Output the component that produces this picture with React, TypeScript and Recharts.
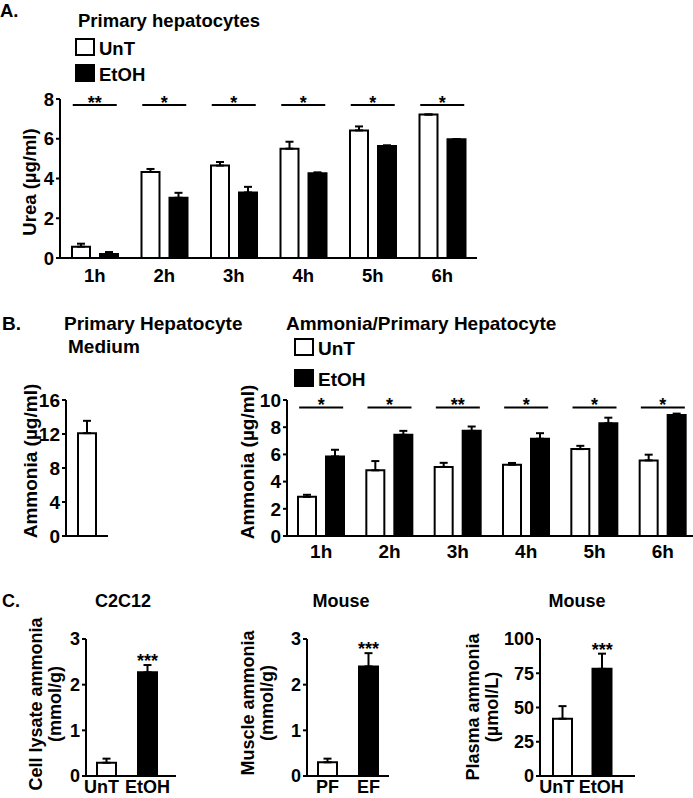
import { Bar, Cell, ComposedChart, ErrorBar, Scatter, XAxis, YAxis } from 'recharts'

const FONT = '"Liberation Sans", Arial, Helvetica, sans-serif'
const INK = '#000'
const PAPER = '#fff'

// A. urea, primary hepatocytes
const hours = ['1h', '2h', '3h', '4h', '5h', '6h']
const ureaUnT = [0.57, 4.33, 4.65, 5.5, 6.42, 7.22]
const ureaUnTErr = [0.15, 0.15, 0.18, 0.35, 0.2, 0]
const ureaEtOH = [0.2, 3.03, 3.3, 4.26, 5.64, 5.98]
const ureaEtOHErr = [0.1, 0.25, 0.28, 0.05, 0.03, 0]
const ureaStars = ['**', '*', '*', '*', '*', '*']
const ureaTicks = [0, 2, 4, 6, 8]
const ureaSigAt = 7.7

// B. ammonia, medium + time course
const mediumCats = ['Medium']
const mediumAmmonia = [12.1]
const mediumAmmoniaErr = [1.45]
const mediumTicks = [0, 4, 8, 12, 16]

const ammUnT = [2.88, 4.83, 5.08, 5.24, 6.39, 5.56]
const ammUnTErr = [0.15, 0.68, 0.3, 0.13, 0.24, 0.42]
const ammEtOH = [5.85, 7.44, 7.73, 7.15, 8.29, 8.9]
const ammEtOHErr = [0.49, 0.29, 0.32, 0.41, 0.41, 0.1]
const ammStars = ['*', '*', '**', '*', '*', '*']
const ammTicks = [0, 2, 4, 6, 8, 10]
const ammSigAt = 9.45

// C. cell lysate / muscle / plasma
const cellGroups = ['UnT', 'EtOH']
const cellAmmonia = [0.29, 2.27]
const cellAmmoniaErr = [0.09, 0.16]
const dietGroups = ['PF', 'EF']
const muscleAmmonia = [0.3, 2.4]
const muscleAmmoniaErr = [0.08, 0.29]
const plasmaGroups = ['UnT', 'EtOH']
const plasmaAmmonia = [41.8, 78.2]
const plasmaAmmoniaErr = [9.2, 11.1]
const twoGroupStars = ['', '***']
const mmolTicks = [0, 1, 2, 3]
const plasmaTicks = [0, 25, 50, 75, 100]
const groupFills = [PAPER, INK]

const pairRows = (cats: string[], unt: number[], untErr: number[], etoh: number[], etohErr: number[], stars: string[], sigAt: number) =>
  cats.map((cat, i) => ({
    cat,
    unt: unt[i],
    untErr: [0, untErr[i]],
    etoh: etoh[i],
    etohErr: [0, etohErr[i]],
    stars: stars[i],
    sig: sigAt,
  }))

const singleRows = (cats: string[], vals: number[], errs: number[], stars: string[]) =>
  cats.map((cat, i) => ({ cat, v: vals[i], err: [0, errs[i]], stars: stars[i], top: vals[i] + errs[i] }))

const axisLine = { stroke: INK, strokeWidth: 2 }
const textStyle = (size: number) => ({ fill: INK, fontSize: size, fontWeight: 'bold' as const, fontFamily: FONT })

function SigMark(props: any) {
  const { cx, cy, payload } = props
  if (cx == null || cy == null) return <g />
  return (
    <g>
      <line x1={cx - 22} x2={cx + 22} y1={cy} y2={cy} stroke={INK} strokeWidth={2} />
      <text x={cx} y={cy + 4} textAnchor="middle" {...textStyle(18)}>
        {payload.stars}
      </text>
    </g>
  )
}

function StarMark(props: any) {
  const { cx, cy, payload } = props
  if (cx == null || cy == null || !payload.stars) return <g />
  return (
    <text x={cx} y={cy + 2} textAnchor="middle" {...textStyle(18)}>
      {payload.stars}
    </text>
  )
}

// category label, nudged sideways so neighbouring words keep a gap
function ShiftedTick(props: any) {
  const { x, y, payload, index, shifts, size } = props
  return (
    <text x={x + (shifts?.[index] ?? 0)} y={y} dy="0.71em" textAnchor="middle" {...textStyle(size)}>
      {payload.value}
    </text>
  )
}

interface PairProps {
  rows: ReturnType<typeof pairRows>
  ticks: number[]
  left: number
  top: number
  yWidth: number
  plotW: number
  plotH: number
  padTop: number
  labelGap: number
  size: number
}

function PairChart({ rows, ticks, left, top, yWidth, plotW, plotH, padTop, labelGap, size }: PairProps) {
  return (
    <div style={{ position: 'absolute', left, top }}>
      <ComposedChart
        width={yWidth + plotW}
        height={padTop + plotH + 30}
        data={rows}
        margin={{ top: padTop, right: 0, bottom: 0, left: 0 }}
        barSize={18}
        barGap={10}
      >
        <XAxis dataKey="cat" axisLine={axisLine} tickLine={false} tickSize={0} tickMargin={labelGap} tick={textStyle(size)} interval={0} height={30} />
        <YAxis
          domain={[ticks[0], ticks[ticks.length - 1]]}
          ticks={ticks}
          interval={0}
          width={yWidth}
          axisLine={axisLine}
          tickLine={axisLine}
          tickSize={4}
          tickMargin={2}
          tick={textStyle(size)}
        />
        <Bar dataKey="unt" fill={PAPER} stroke={INK} strokeWidth={2} isAnimationActive={false}>
          <ErrorBar dataKey="untErr" width={4} stroke={INK} strokeWidth={2} direction="y" />
        </Bar>
        <Bar dataKey="etoh" fill={INK} stroke={INK} strokeWidth={2} isAnimationActive={false}>
          <ErrorBar dataKey="etohErr" width={4} stroke={INK} strokeWidth={2} direction="y" />
        </Bar>
        <Scatter dataKey="sig" shape={SigMark} isAnimationActive={false} />
      </ComposedChart>
    </div>
  )
}

interface SingleProps {
  rows: ReturnType<typeof singleRows>
  ticks: number[]
  left: number
  top: number
  yWidth: number
  plotW: number
  plotH: number
  padTop: number
  xHeight: number
  labelGap: number
  size: number
  showLabels?: boolean
  labelShifts?: number[]
  barSize: number
  pad?: { left: number; right: number }
}

function SingleChart({ rows, ticks, left, top, yWidth, plotW, plotH, padTop, xHeight, labelGap, size, showLabels = true, labelShifts, barSize, pad }: SingleProps) {
  return (
    <div style={{ position: 'absolute', left, top }}>
      <ComposedChart
        width={yWidth + plotW}
        height={padTop + plotH + xHeight}
        data={rows}
        margin={{ top: padTop, right: 0, bottom: 0, left: 0 }}
        barSize={barSize}
      >
        <XAxis
          dataKey="cat"
          axisLine={axisLine}
          tickLine={false}
          tickSize={0}
          tickMargin={labelGap}
          tick={showLabels ? <ShiftedTick shifts={labelShifts} size={size} /> : false}
          interval={0}
          height={xHeight}
          padding={pad ?? { left: 0, right: 0 }}
        />
        <YAxis
          domain={[ticks[0], ticks[ticks.length - 1]]}
          ticks={ticks}
          interval={0}
          width={yWidth}
          axisLine={axisLine}
          tickLine={axisLine}
          tickSize={4}
          tickMargin={2}
          tick={textStyle(size)}
        />
        <Bar dataKey="v" stroke={INK} strokeWidth={2} isAnimationActive={false}>
          {rows.map((r, i) => (
            <Cell key={r.cat} fill={groupFills[i % groupFills.length]} />
          ))}
          <ErrorBar dataKey="err" width={4} stroke={INK} strokeWidth={2} direction="y" />
        </Bar>
        <Scatter dataKey="top" shape={StarMark} isAnimationActive={false} />
      </ComposedChart>
    </div>
  )
}

function VLabel({ x, y, lines, size, gap = 19 }: { x: number; y: number; lines: string[]; size: number; gap?: number }) {
  return (
    <>
      {lines.map((line, i) => (
        <text key={line} {...textStyle(size)} textAnchor="middle" transform={`translate(${x + i * gap},${y}) rotate(-90)`}>
          {line}
        </text>
      ))}
    </>
  )
}

function Swatch({ x, y, filled, text, size }: { x: number; y: number; filled: boolean; text: string; size: number }) {
  return (
    <>
      <rect x={x} y={y} width={18} height={16} fill={filled ? INK : PAPER} stroke={INK} strokeWidth={2} />
      <text {...textStyle(size)} x={x + 23} y={y + 16}>
        {text}
      </text>
    </>
  )
}

const SIZE_A = 18.5
const SIZE_B = 19
const SIZE_C = 18

export default function App() {
  const ureaRows = pairRows(hours, ureaUnT, ureaUnTErr, ureaEtOH, ureaEtOHErr, ureaStars, ureaSigAt)
  const ammRows = pairRows(hours, ammUnT, ammUnTErr, ammEtOH, ammEtOHErr, ammStars, ammSigAt)
  const mediumRows = singleRows(mediumCats, mediumAmmonia, mediumAmmoniaErr, [''])
  const cellRows = singleRows(cellGroups, cellAmmonia, cellAmmoniaErr, twoGroupStars)
  const muscleRows = singleRows(dietGroups, muscleAmmonia, muscleAmmoniaErr, twoGroupStars)
  const plasmaRows = singleRows(plasmaGroups, plasmaAmmonia, plasmaAmmoniaErr, twoGroupStars)

  return (
    <div style={{ position: 'fixed', left: 0, top: 0, width: 693, height: 798, overflow: 'hidden', background: PAPER }}>
      <PairChart rows={ureaRows} ticks={ureaTicks} left={0} top={80} yWidth={60} plotW={417} plotH={159} padTop={19} labelGap={11} size={SIZE_A} />

      <SingleChart
        rows={mediumRows}
        ticks={mediumTicks}
        left={0}
        top={380}
        yWidth={66}
        plotW={42}
        plotH={136}
        padTop={20}
        xHeight={14}
        labelGap={0}
        size={SIZE_B}
        showLabels={false}
        barSize={18}
      />
      <PairChart rows={ammRows} ticks={ammTicks} left={220} top={380} yWidth={67} plotW={410} plotH={136} padTop={20} labelGap={9} size={SIZE_B} />

      <SingleChart
        rows={cellRows}
        ticks={mmolTicks}
        left={0}
        top={620}
        yWidth={86}
        plotW={90}
        plotH={137}
        padTop={19}
        xHeight={22}
        labelGap={4}
        size={SIZE_C}
        labelShifts={[-5, 0]}
        barSize={19}
        pad={{ left: 0, right: 8 }}
      />
      <SingleChart
        rows={muscleRows}
        ticks={mmolTicks}
        left={220}
        top={620}
        yWidth={87}
        plotW={82}
        plotH={137}
        padTop={19}
        xHeight={22}
        labelGap={4}
        size={SIZE_C}
        barSize={19}
      />
      <SingleChart
        rows={plasmaRows}
        ticks={plasmaTicks}
        left={450}
        top={620}
        yWidth={90}
        plotW={95}
        plotH={137}
        padTop={19}
        xHeight={22}
        labelGap={4}
        size={SIZE_C}
        labelShifts={[-6, -1]}
        barSize={19}
        pad={{ left: 3, right: 13 }}
      />

      <svg width={693} height={798} style={{ position: 'absolute', left: 0, top: 0, pointerEvents: 'none' }}>
        <text {...textStyle(SIZE_A)} x={0} y={17}>A.</text>
        <text {...textStyle(SIZE_A)} x={78} y={27}>Primary hepatocytes</text>
        <Swatch x={76} y={39} filled={false} text="UnT" size={SIZE_A} />
        <Swatch x={76} y={65} filled text="EtOH" size={SIZE_A} />
        <VLabel x={36} y={182} lines={['Urea (µg/ml)']} size={SIZE_A} />

        <text {...textStyle(SIZE_B)} x={2} y={330}>B.</text>
        <text {...textStyle(SIZE_B)} x={64} y={330}>Primary Hepatocyte</text>
        <text {...textStyle(SIZE_B)} x={68} y={353}>Medium</text>
        <text {...textStyle(SIZE_B)} x={286} y={330}>Ammonia/Primary Hepatocyte</text>
        <Swatch x={295} y={339} filled={false} text="UnT" size={SIZE_B} />
        <Swatch x={295} y={370} filled text="EtOH" size={SIZE_B} />
        <VLabel x={37} y={461} lines={['Ammonia (µg/ml)']} size={SIZE_B} />
        <VLabel x={254} y={462} lines={['Ammonia (µg/ml)']} size={SIZE_B} />

        <text {...textStyle(SIZE_C)} x={2} y={607}>C.</text>
        <text {...textStyle(SIZE_C)} x={123} y={607} textAnchor="middle">C2C12</text>
        <text {...textStyle(SIZE_C)} x={341} y={607} textAnchor="middle">Mouse</text>
        <text {...textStyle(SIZE_C)} x={577} y={607} textAnchor="middle">Mouse</text>
        <VLabel x={42} y={704} lines={['Cell lysate ammonia', '(mmol/g)']} size={SIZE_C} />
        <VLabel x={254} y={703} lines={['Muscle ammonia', '(mmol/g)']} size={SIZE_C} />
        <VLabel x={479} y={707} lines={['Plasma ammonia', '(µmol/L)']} size={SIZE_C} />
      </svg>
    </div>
  )
}
